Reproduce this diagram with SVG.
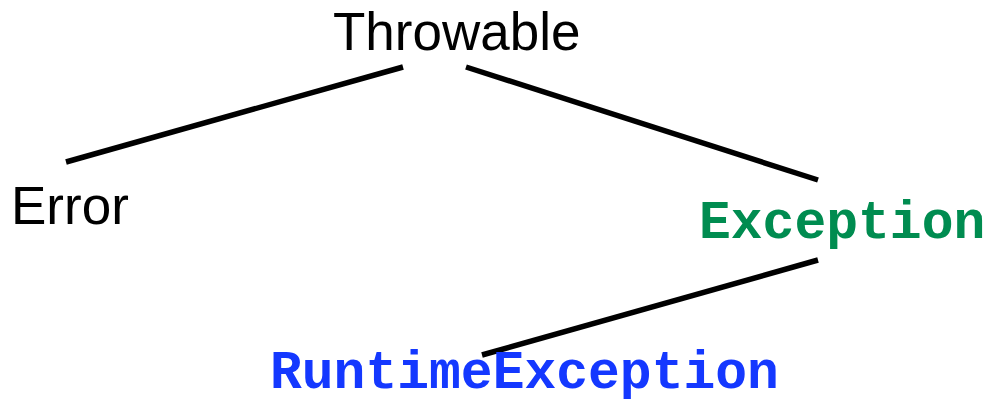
<svg xmlns="http://www.w3.org/2000/svg" width="991" height="404" viewBox="0 0 991 404">
  <style>
    .sans { font-family: "Liberation Sans", Arial, sans-serif; font-size: 53px; fill: #000; }
    .mono { font-family: "Liberation Mono", "Courier New", monospace; font-size: 53px; font-weight: bold; }
    .checked { fill: #008c50; }
    .unchecked { fill: #1438ff; }
    .edge { stroke: #000; stroke-width: 5.5; fill: none; }
  </style>
  <rect width="991" height="404" fill="#fff"/>
  <g id="connectors">
    <line class="edge" x1="403" y1="67" x2="66" y2="162"/>
    <line class="edge" x1="466" y1="67" x2="818" y2="180"/>
    <line class="edge" x1="818" y1="260" x2="482" y2="355"/>
  </g>
  <g id="throwable">
    <text class="sans" x="333" y="50">Throwable</text>
  </g>
  <g id="error">
    <text class="sans" x="11" y="224">Error</text>
  </g>
  <g id="exception">
    <text class="mono checked" x="699" y="238">Exception</text>
  </g>
  <g id="runtime-exception">
    <text class="mono unchecked" x="270" y="388">RuntimeException</text>
  </g>
</svg>
